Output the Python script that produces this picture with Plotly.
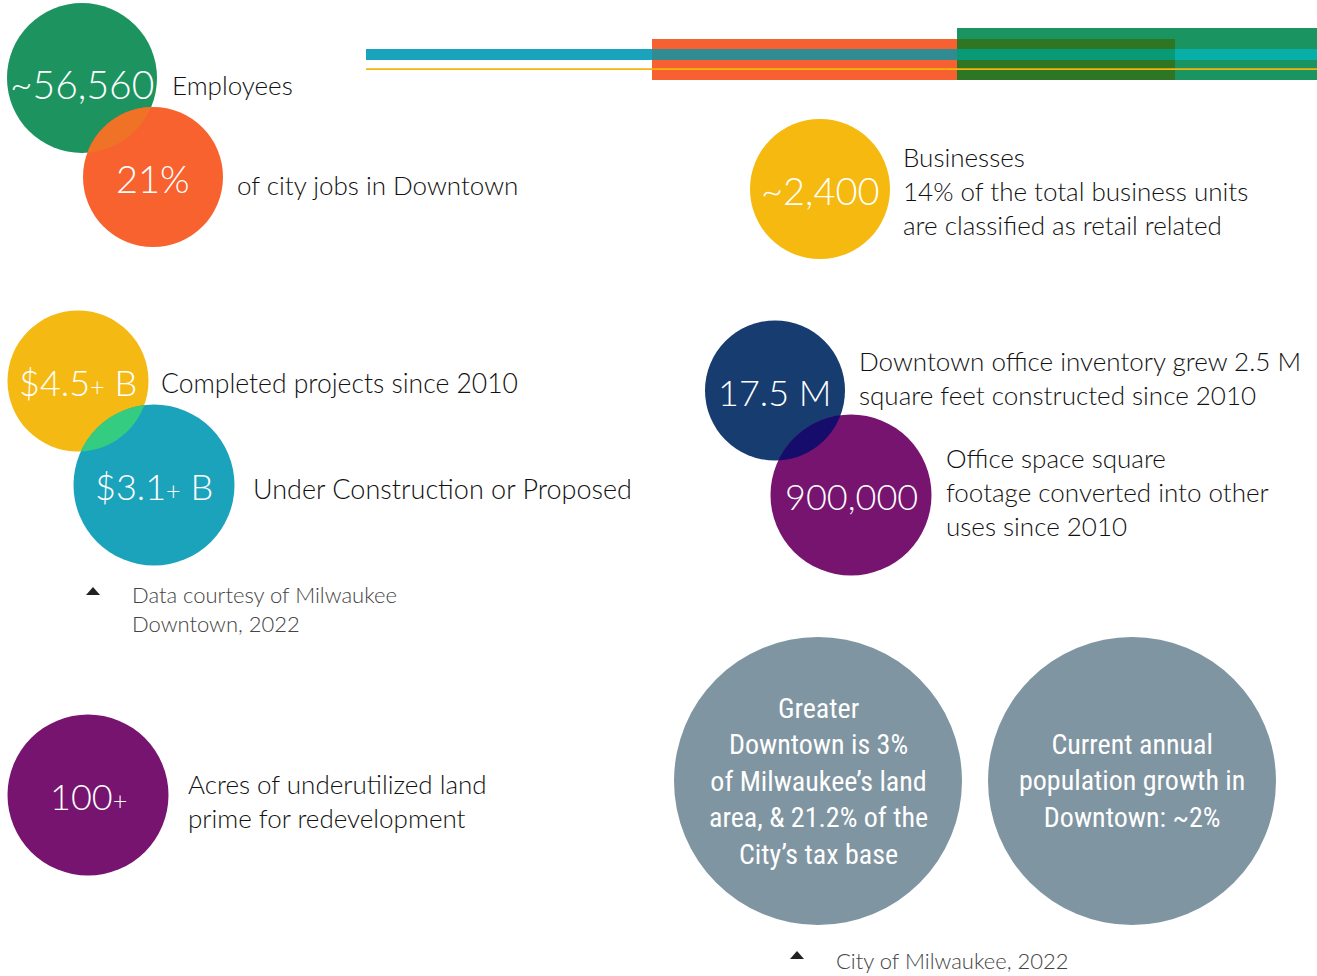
import numpy as np
import plotly.graph_objects as go

W, H = 1317, 976

# ---------------- data ----------------
circle_labels = ["~56,560", "21%", "~2,400", "$4.5<span style='font-size:0.7em'>+</span> B",
                 "$3.1<span style='font-size:0.7em'>+</span> B", "17.5 M", "900,000",
                 "100<span style='font-size:0.7em'>+</span>"]
circle_notes = [
    "Employees",
    "of city jobs in Downtown",
    "Businesses<br>14% of the total business units<br>are classified as retail related",
    "Completed projects since 2010",
    "Under Construction or Proposed",
    "Downtown office inventory grew 2.5 M<br>square feet constructed since 2010",
    "Office space square<br>footage converted into other<br>uses since 2010",
    "Acres of underutilized land<br>prime for redevelopment",
]
gray_texts = [
    "Greater<br>Downtown is 3%<br>of Milwaukee’s land<br>area, & 21.2% of the<br>City’s tax base",
    "Current annual<br>population growth in<br>Downtown: ~2%",
]
source_texts = ["Data courtesy of Milwaukee<br>Downtown, 2022", "City of Milwaukee, 2022"]

# ---------------- layout / style ----------------
# circle: (cx, cy, r, color, label font size, label y)
circ_geo = [
    (82, 78, 75, "#1d9460", 39, 84),
    (153, 177, 70, "#f7622f", 38, 178),
    (820, 189, 70, "#f5b90f", 38, 190),
    (78, 381, 70.5, "#f5b914", 36, 382),
    (154, 485, 80.5, "#1ca3bc", 36, 486),
    (775, 390.5, 70, "#173c70", 36, 392),
    (851, 495, 80.5, "#761470", 36, 496),
    (88, 795, 80.5, "#761470", 36, 796),
]
# note positions: (x, y center, font size)
note_pos = [(170, 85, 26), (235, 185, 26), (901, 191, 26), (159, 383, 26.5), (251, 488, 27),
            (857, 378, 26), (944, 492, 26), (186, 801, 26)]
overlaps = [(0, 1, "#ef7226"), (3, 4, "#33cc80"), (5, 6, "#150c6b")]
gray_geo = [(818, 781, 144), (1132, 781, 144)]
gray_color = "#7f95a2"
source_pos = [(130, 609, 93, 591), (834, 960, 797, 955)]

FONT = "Lato, 'Open Sans', sans-serif"
COND = "'Roboto Condensed', 'Liberation Sans Narrow', 'DejaVu Sans Condensed', sans-serif"

fig = go.Figure()
shapes = []
annotations = []


def rect(x0, x1, y0, y1, color):
    shapes.append(dict(type="rect", xref="x", yref="y", x0=x0, x1=x1, y0=y0, y1=y1,
                       fillcolor=color, line=dict(width=0), layer="above"))


# top decorative bars
rect(652, 957, 39, 80, "#f76030")
rect(957, 1317, 28, 80, "#1a9460")
rect(957, 1175, 39, 80, "#2e7623")
rect(366, 652, 49, 60, "#1aa3bd")
rect(652, 957, 49, 60, "#308c92")
rect(957, 1175, 49, 60, "#089a76")
rect(1175, 1317, 49, 60, "#07afa8")
rect(366, 1317, 68.2, 70, "#f5b50c")

# circles
for (cx, cy, r, col, fs, ly) in circ_geo:
    shapes.append(dict(type="circle", xref="x", yref="y", x0=cx - r, x1=cx + r,
                       y0=cy - r, y1=cy + r, fillcolor=col, line=dict(width=0),
                       layer="above"))


def lens_path(c1, c2, n=60):
    x1, y1, r1 = c1[0], c1[1], c1[2]
    x2, y2, r2 = c2[0], c2[1], c2[2]
    d = np.hypot(x2 - x1, y2 - y1)
    a = (r1 ** 2 - r2 ** 2 + d ** 2) / (2 * d)
    al1 = np.arccos(a / r1)
    al2 = np.arccos((d - a) / r2)
    t12 = np.arctan2(y2 - y1, x2 - x1)
    t21 = np.arctan2(y1 - y2, x1 - x2)
    th1 = np.linspace(t12 - al1, t12 + al1, n)
    th2 = np.linspace(t21 - al2, t21 + al2, n)
    px = np.concatenate([x1 + r1 * np.cos(th1), x2 + r2 * np.cos(th2)])
    py = np.concatenate([y1 + r1 * np.sin(th1), y2 + r2 * np.sin(th2)])
    pts = " L".join(f"{u:.2f},{v:.2f}" for u, v in zip(px, py))
    return "M" + pts + " Z"


for i, j, col in overlaps:
    shapes.append(dict(type="path", xref="x", yref="y", path=lens_path(circ_geo[i], circ_geo[j]),
                       fillcolor=col, line=dict(width=0), layer="above"))

for (cx, cy, r) in gray_geo:
    shapes.append(dict(type="circle", xref="x", yref="y", x0=cx - r, x1=cx + r,
                       y0=cy - r, y1=cy + r, fillcolor=gray_color, line=dict(width=0),
                       layer="above"))

# source triangles
for (tx, ty, px, py) in source_pos:
    shapes.append(dict(type="path", xref="x", yref="y",
                       path=f"M{px-7},{py+4} L{px+7},{py+4} L{px},{py-4} Z",
                       fillcolor="#222222", line=dict(width=0), layer="above"))

# labels in circles
for lab, (cx, cy, r, col, fs, ly) in zip(circle_labels, circ_geo):
    annotations.append(dict(x=cx, y=ly, xref="x", yref="y", text=lab, showarrow=False,
                            xanchor="center", yanchor="middle",
                            font=dict(family=FONT, size=fs, color="white", weight=300)))

for note, (nx, ny, fs) in zip(circle_notes, note_pos):
    annotations.append(dict(x=nx, y=ny, xref="x", yref="y", text=note, showarrow=False,
                            xanchor="left", yanchor="middle", align="left",
                            font=dict(family=FONT, size=fs, color="#111111", weight=300)))

for txt, (cx, cy, r) in zip(gray_texts, gray_geo):
    annotations.append(dict(x=cx, y=cy, xref="x", yref="y", text=txt, showarrow=False,
                            xanchor="center", yanchor="middle", align="center",
                            font=dict(family=COND, size=28, color="white")))

for txt, (tx, ty, px, py) in zip(source_texts, source_pos):
    annotations.append(dict(x=tx, y=ty, xref="x", yref="y", text=txt, showarrow=False,
                            xanchor="left", yanchor="middle", align="left",
                            font=dict(family=FONT, size=22, color="#444444", weight=300)))

fig.update_layout(
    width=W, height=H,
    margin=dict(l=0, r=0, t=0, b=0),
    paper_bgcolor="white", plot_bgcolor="white",
    xaxis=dict(range=[0, W], visible=False, fixedrange=True),
    yaxis=dict(range=[H, 0], visible=False, fixedrange=True),
    shapes=shapes, annotations=annotations, showlegend=False,
)

fig.write_html("out.html", config={"displayModeBar": False},
               post_script="document.body.style.margin='0';document.body.style.overflow='hidden';")
